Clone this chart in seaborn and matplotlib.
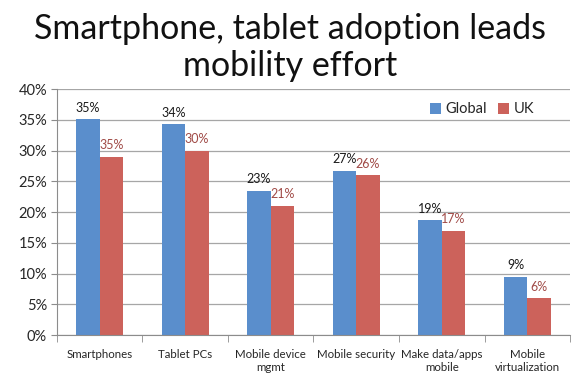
import numpy as np
import pandas as pd
import matplotlib
matplotlib.use("Agg")
import matplotlib.pyplot as plt
import seaborn as sns
from matplotlib.ticker import PercentFormatter, FixedLocator

categories = ["Smartphones", "Tablet PCs", "Mobile device\nmgmt", "Mobile security",
              "Make data/apps\nmobile", "Mobile\nvirtualization"]
global_values = [35.1, 34.3, 23.5, 26.7, 18.7, 9.5]
uk_values = [29.0, 30.0, 21.0, 26.0, 17.0, 6.0]
# labels as printed on the original chart (UK smartphones label reads 35%)
global_labels = ["35%", "34%", "23%", "27%", "19%", "9%"]
uk_labels = ["35%", "30%", "21%", "26%", "17%", "6%"]
series = ["Global", "UK"]
colors = {"Global": "#5A8ECC", "UK": "#CC625B"}

df = pd.DataFrame({
    "category": categories * 2,
    "series": ["Global"] * len(categories) + ["UK"] * len(categories),
    "value": global_values + uk_values,
})

sns.set_style("white")
plt.rcParams["font.family"] = ["Lato", "DejaVu Sans"]

fig = plt.figure(figsize=(5.8, 3.86), dpi=100)
ax = fig.add_axes([0.098, 0.132, 0.885, 0.637])

sns.barplot(data=df, x="category", y="value", hue="series", palette=colors,
            width=0.55, saturation=1, ax=ax, edgecolor="none")

ax.set_ylim(0, 40)
ax.set_yticks(np.arange(0, 41, 5))
ax.yaxis.set_major_formatter(PercentFormatter(decimals=0))
ax.set_xlim(-0.5, len(categories) - 0.5)
ax.grid(axis="y", color="#A6A6A6", linewidth=0.9)
ax.set_axisbelow(True)

for side in ["top", "right"]:
    ax.spines[side].set_visible(False)
ax.spines["left"].set_color("#8C8C8C")
ax.spines["bottom"].set_color("#8C8C8C")

ax.set_xlabel("")
ax.set_ylabel("")
ax.tick_params(axis="y", labelsize=10.5, length=4, color="#8C8C8C", pad=3, left=True)
ax.tick_params(axis="x", which="major", labelsize=8.3, length=0, pad=10)
ax.xaxis.set_minor_locator(FixedLocator(np.arange(-0.5, len(categories), 1.0)))
ax.tick_params(axis="x", which="minor", length=5, color="#8C8C8C", bottom=True)

# value labels
for container, labels, col in zip(ax.containers, [global_labels, uk_labels], ["#1a1a1a", "#A04A46"]):
    for bar, lab in zip(container, labels):
        ax.annotate(lab, (bar.get_x() + bar.get_width() / 2, bar.get_height()),
                    xytext=(0, 4), textcoords="offset points",
                    ha="center", va="bottom", fontsize=9, color=col)

leg = ax.legend(loc="upper right", bbox_to_anchor=(0.955, 1.0), ncol=2, frameon=False,
                fontsize=10.5, handlelength=0.75, handleheight=0.75, handletextpad=0.3,
                columnspacing=0.8)
leg.set_title(None)

fig.text(0.5, 0.877, "Smartphone, tablet adoption leads\nmobility effort",
         ha="center", va="center", fontsize=24.5, color="#111111", linespacing=1.22)

fig.savefig("out.png", dpi=100)
